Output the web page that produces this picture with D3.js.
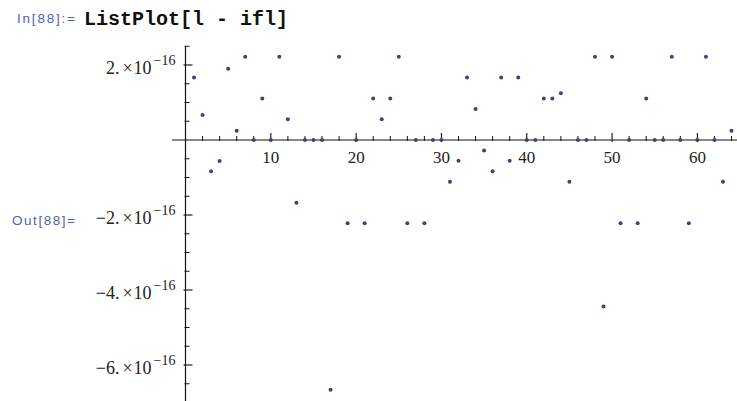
<!DOCTYPE html>
<html>
<head>
<meta charset="utf-8">
<script src="https://cdn.jsdelivr.net/npm/d3@7"></script>
<style>
  body { margin: 0; background: #fff; }
  svg { display: block; }
</style>
</head>
<body>
<div id="chart"></div>
<script>
// ListPlot[l - ifl] : residuals, in units of 1e-16, for indices 1..64
var idx = d3.range(1, 65)
var vals = [
  1.67, 0.67, -0.83, -0.56, 1.90, 0.25, 2.22, 0, 1.11, 0,
  2.22, 0.555, -1.67, 0, 0, 0, -6.66, 2.22, -2.22, 0,
  -2.22, 1.11, 0.555, 1.11, 2.22, -2.22, 0, -2.22, 0, 0,
  -1.11, -0.555, 1.67, 0.83, -0.28, -0.83, 1.67, -0.555, 1.67, 0,
  0, 1.11, 1.11, 1.25, -1.11, 0, 0, 2.22, -4.44, 2.22,
  -2.22, 0, -2.22, 1.11, 0, 0, 2.22, 0, -2.22, 0,
  2.22, 0, -1.11, 0.25
]
var xMajor = [10, 20, 30, 40, 50, 60]
var yMajor = [2, -2, -4, -6]
var yMantissa = ["2.", "-2.", "-4.", "-6."]
var yExponent = "\u221216"

var W = 737, H = 401
var svg = d3.select("#chart").append("svg")
  .attr("width", W)
  .attr("height", H)

var x = d3.scaleLinear().domain([0, 64]).range([185.5, 731.5])
var y = d3.scaleLinear().domain([-7, 2.5]).range([402.5, 46.25])

// notebook labels
svg.append("text")
  .attr("x", 17).attr("y", 23)
  .attr("font-family", "Liberation Sans, Arial, sans-serif")
  .attr("font-size", 13.5)
  .attr("fill", "#5262a6")
  .attr("textLength", 58).attr("lengthAdjust", "spacing")
  .text("In[88]:=")

svg.append("text")
  .attr("x", 84).attr("y", 25)
  .attr("font-family", "Liberation Mono, Courier New, monospace")
  .attr("font-weight", "bold")
  .attr("font-size", 20)
  .attr("fill", "#111")
  .text("ListPlot[l - ifl]")

svg.append("text")
  .attr("x", 12).attr("y", 225)
  .attr("font-family", "Liberation Sans, Arial, sans-serif")
  .attr("font-size", 13.5)
  .attr("fill", "#5262a6")
  .attr("textLength", 63).attr("lengthAdjust", "spacing")
  .text("Out[88]=")

var axisCol = "#111"
var x0 = x(0), y0 = y(0)

// x axis
svg.append("line")
  .attr("x1", x(-1.6)).attr("x2", W)
  .attr("y1", y0).attr("y2", y0)
  .attr("stroke", axisCol).attr("stroke-width", 1.2)

var xMinor = d3.range(2, 65, 2).filter(function(d){ return d % 10 != 0 })
svg.selectAll(".xminor").data(xMinor).enter().append("line")
  .attr("x1", function(d){ return x(d) }).attr("x2", function(d){ return x(d) })
  .attr("y1", y0 - 4).attr("y2", y0 + 1)
  .attr("stroke", axisCol).attr("stroke-width", 1)

svg.selectAll(".xmajor").data(xMajor).enter().append("line")
  .attr("x1", function(d){ return x(d) }).attr("x2", function(d){ return x(d) })
  .attr("y1", y0 - 7).attr("y2", y0 + 2)
  .attr("stroke", axisCol).attr("stroke-width", 1.1)

svg.selectAll(".xlab").data(xMajor).enter().append("text")
  .attr("x", function(d){ return x(d) })
  .attr("y", y0 + 23)
  .attr("text-anchor", "middle")
  .attr("font-family", "Liberation Serif, Times New Roman, serif")
  .attr("font-size", 17)
  .attr("fill", "#222")
  .text(function(d){ return d })

// y axis
svg.append("line")
  .attr("x1", x0).attr("x2", x0)
  .attr("y1", y(2.5)).attr("y2", H)
  .attr("stroke", axisCol).attr("stroke-width", 1.2)

var yMinor = d3.range(-14, 6).map(function(d){ return d / 2 }).filter(function(d){ return d % 2 != 0 })
svg.selectAll(".yminor").data(yMinor).enter().append("line")
  .attr("x1", x0 - 1).attr("x2", x0 + 4)
  .attr("y1", function(d){ return y(d) }).attr("y2", function(d){ return y(d) })
  .attr("stroke", axisCol).attr("stroke-width", 1)

svg.selectAll(".ymajor").data(yMajor).enter().append("line")
  .attr("x1", x0 - 2).attr("x2", x0 + 7)
  .attr("y1", function(d){ return y(d) }).attr("y2", function(d){ return y(d) })
  .attr("stroke", axisCol).attr("stroke-width", 1.1)

var ylab = svg.selectAll(".ylab").data(yMajor).enter().append("text")
  .attr("x", x0 - 10)
  .attr("y", function(d){ return y(d) + 9 })
  .attr("text-anchor", "end")
  .attr("font-family", "Liberation Serif, Times New Roman, serif")
  .attr("font-size", 18)
  .attr("fill", "#222")

ylab.append("tspan").text(function(d, i){ return yMantissa[i].replace("-", "\u2212") })
ylab.append("tspan").attr("dx", 3).text("\u00d7")
ylab.append("tspan").attr("dx", 1).text("10")
ylab.append("tspan").attr("dx", 2).attr("dy", -9).attr("font-size", 14).text(yExponent)

// points
svg.selectAll(".pt").data(vals).enter().append("circle")
  .attr("cx", function(d, i){ return x(idx[i]) })
  .attr("cy", function(d){ return y(d) })
  .attr("r", 2)
  .attr("fill", "#41417f")
</script>
</body>
</html>
